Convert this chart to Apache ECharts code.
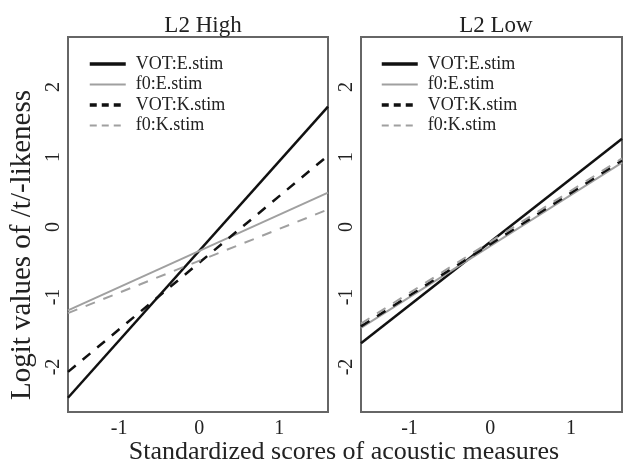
<!DOCTYPE html>
<html>
<head>
<meta charset="utf-8">
<script src="https://cdn.jsdelivr.net/npm/echarts@6/dist/echarts.min.js"></script>
<style>
  html, body { margin: 0; padding: 0; background: #fff; }
  #main { width: 626px; height: 465px; }
</style>
</head>
<body>
<div id="main"></div>
<script>
// Series names (legend order)
var seriesNames = ['VOT:E.stim', 'f0:E.stim', 'VOT:K.stim', 'f0:K.stim'];

// L2 High panel: line end points
var highX = [-1.64, 1.61];
var highVotE = [-2.44, 1.72];
var highF0E = [-1.19, 0.49];
var highVotK = [-2.07, 1.02];
var highF0K = [-1.23, 0.25];

// L2 Low panel: line end points
var lowX = [-1.60, 1.63];
var lowVotE = [-1.66, 1.26];
var lowF0E = [-1.44, 0.92];
var lowVotK = [-1.42, 0.95];
var lowF0K = [-1.38, 0.98];

// Tick labels
var xTicks = [-1, 0, 1];
var yTicks = [-2, -1, 0, 1, 2];

var FONT = '"Liberation Serif", "DejaVu Serif", serif';

function pairs(xs, ys) {
  return xs.map(function (x, i) { return [x, ys[i]]; });
}

// styles for the four lines
var styles = [
  { color: '#111', width: 2.5, type: 'solid' },
  { color: '#a0a0a0', width: 2, type: 'solid' },
  { color: '#111', width: 2.5, type: [10, 9] },
  { color: '#a0a0a0', width: 2, type: [10, 9] }
];

// legend keys are a bit heavier, with shorter dashes
var legendLines = [
  { width: 3.5, type: 'solid' },
  { width: 2, type: 'solid' },
  { width: 3.5, type: [7, 5] },
  { width: 2, type: [7, 5] }
];

function makeSeries(panel, xs, ysList) {
  return ysList.map(function (ys, i) {
    return {
      name: seriesNames[i],
      type: 'line',
      xAxisIndex: panel,
      yAxisIndex: panel,
      symbol: 'none',
      silent: true,
      data: pairs(xs, ys),
      lineStyle: styles[i],
      itemStyle: { color: styles[i].color }
    };
  });
}

function xAxisOpt(panel, min, max) {
  return {
    type: 'value',
    gridIndex: panel,
    min: min,
    max: max,
    axisLine: { show: false },
    axisTick: { show: false },
    splitLine: { show: false },
    axisLabel: {
      customValues: xTicks,
      margin: 7,
      fontFamily: FONT,
      fontSize: 20,
      color: '#222'
    }
  };
}

function yAxisOpt(panel) {
  return {
    type: 'value',
    gridIndex: panel,
    min: -2.643,
    max: 2.714,
    axisLine: { show: false },
    axisTick: { show: false },
    splitLine: { show: false },
    axisLabel: {
      customValues: yTicks,
      rotate: 90,
      margin: 4,
      fontFamily: FONT,
      fontSize: 20,
      color: '#222'
    }
  };
}

function legendOpt(left) {
  return {
    orient: 'vertical',
    left: left,
    top: 50,
    itemWidth: 36,
    itemHeight: 14,
    itemGap: 2.5,
    selectedMode: false,
    data: seriesNames.map(function (n, i) {
      return { name: n, lineStyle: legendLines[i] };
    }),
    // hide the marker dot, keep only the line
    itemStyle: { opacity: 0 },
    textStyle: {
      fontFamily: FONT,
      fontSize: 18,
      color: '#222',
      padding: [0, 0, 0, 5]
    }
  };
}

var chart = echarts.init(document.getElementById('main'));

chart.setOption({
  animation: false,
  backgroundColor: '#fff',
  title: [
    { text: 'L2 High', left: 198, top: 9, textAlign: 'center',
      textStyle: { fontFamily: FONT, fontSize: 23, fontWeight: 'normal', color: '#222' } },
    { text: 'L2 Low', left: 491, top: 9, textAlign: 'center',
      textStyle: { fontFamily: FONT, fontSize: 23, fontWeight: 'normal', color: '#222' } }
  ],
  grid: [
    { left: 68, top: 37, width: 260, height: 375, show: true, borderColor: '#666', borderWidth: 2 },
    { left: 361, top: 37, width: 261, height: 375, show: true, borderColor: '#666', borderWidth: 2 }
  ],
  xAxis: [xAxisOpt(0, -1.64, 1.61), xAxisOpt(1, -1.60, 1.63)],
  yAxis: [yAxisOpt(0), yAxisOpt(1)],
  legend: [legendOpt(83), legendOpt(375)],
  graphic: [
    {
      type: 'text',
      x: 22, y: 245,
      rotation: Math.PI / 2,
      style: {
        text: 'Logit values of /t/-likeness',
        fontFamily: FONT, fontSize: 29, fill: '#222',
        align: 'center', verticalAlign: 'middle'
      }
    },
    {
      type: 'text',
      x: 344, y: 452,
      style: {
        text: 'Standardized scores of acoustic measures',
        fontFamily: FONT, fontSize: 26, fill: '#222',
        align: 'center', verticalAlign: 'middle'
      }
    }
  ],
  series: makeSeries(0, highX, [highVotE, highF0E, highVotK, highF0K])
    .concat(makeSeries(1, lowX, [lowVotE, lowF0E, lowVotK, lowF0K]))
});
</script>
</body>
</html>
